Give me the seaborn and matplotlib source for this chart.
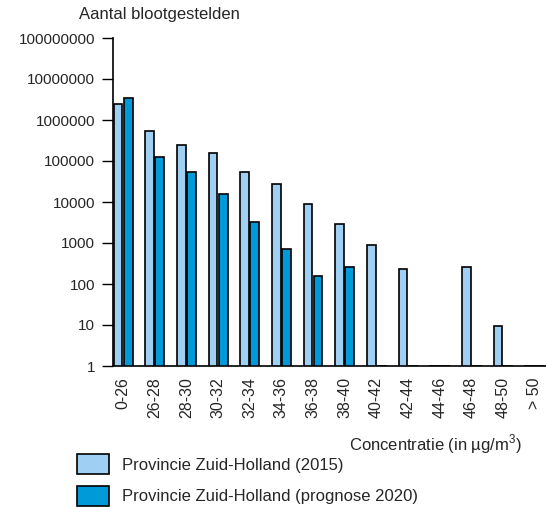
import numpy as np
import pandas as pd
import matplotlib
matplotlib.use("Agg")
import matplotlib.pyplot as plt
import matplotlib.ticker as mticker
import seaborn as sns

# data (1 = no exposed persons, bar of zero height on log axis)
klassen = ['0-26', '26-28', '28-30', '30-32', '32-34', '34-36', '36-38',
           '38-40', '40-42', '42-44', '44-46', '46-48', '48-50', '> 50']
zh_2015 = [2400000, 550000, 250000, 155000, 55000, 27500, 8900,
           2850, 890, 229, 1, 265, 9.3, 1]
zh_2020 = [3400000, 123000, 55000, 15500, 3200, 725, 157,
           265, 1, 1, 1, 1, 1, 1]
reeksen = ['Provincie Zuid-Holland (2015)', 'Provincie Zuid-Holland (prognose 2020)']
kleuren = ['#9fcff3', '#009ad9']

df = pd.DataFrame({
    'klasse': klassen * 2,
    'waarde': zh_2015 + zh_2020,
    'reeks': [reeksen[0]] * len(klassen) + [reeksen[1]] * len(klassen),
})

sns.set_style('white')
plt.rcParams['font.family'] = ['Liberation Sans', 'DejaVu Sans']

fig = plt.figure(figsize=(5.46, 5.07), dpi=100)
ax = fig.add_axes([113 / 546, 1 - 366 / 507, 1 - 113 / 546, (366 - 38) / 507])

sns.barplot(data=df, x='klasse', y='waarde', hue='reeks', palette=kleuren,
            saturation=1, width=0.64, gap=0.14, edgecolor='black', linewidth=1.2,
            legend=True, ax=ax)

ax.set_yscale('log')
ax.set_ylim(1, 1e8)
ax.set_xlim(-0.32, 13.36)
ax.yaxis.set_major_locator(mticker.FixedLocator([10 ** i for i in range(9)]))
ax.yaxis.set_minor_locator(mticker.NullLocator())
ax.yaxis.set_major_formatter(mticker.FuncFormatter(lambda v, p: str(int(round(v)))))
ax.tick_params(axis='y', which='major', length=8, width=1, color='black',
               labelsize=11, pad=5, left=True)
ax.tick_params(axis='x', length=0, labelsize=11.5, pad=8, labelrotation=90)
for s in ['top', 'right']:
    ax.spines[s].set_visible(False)
for s in ['left', 'bottom']:
    ax.spines[s].set_color('black')
    ax.spines[s].set_linewidth(1.2)
ax.set_xlabel('')
ax.set_ylabel('')

handles, labels = ax.get_legend_handles_labels()
ax.get_legend().remove()
fig.legend(handles, labels, loc='upper left', bbox_to_anchor=(77 / 546, 1 - 454 / 507),
           frameon=False, fontsize=12, handlelength=1.9, handleheight=1.5,
           handletextpad=0.8, labelspacing=0.68, borderpad=0, borderaxespad=0)

fig.text(79 / 546, 1 - 15 / 507, 'Aantal blootgestelden', fontsize=12,
         ha='left', va='center')
fig.text(522 / 546, 1 - 444 / 507, 'Concentratie (in µg/m$^{\\mathregular{3}}$)', fontsize=12,
         ha='right', va='center')

fig.savefig('out.png', dpi=100)
